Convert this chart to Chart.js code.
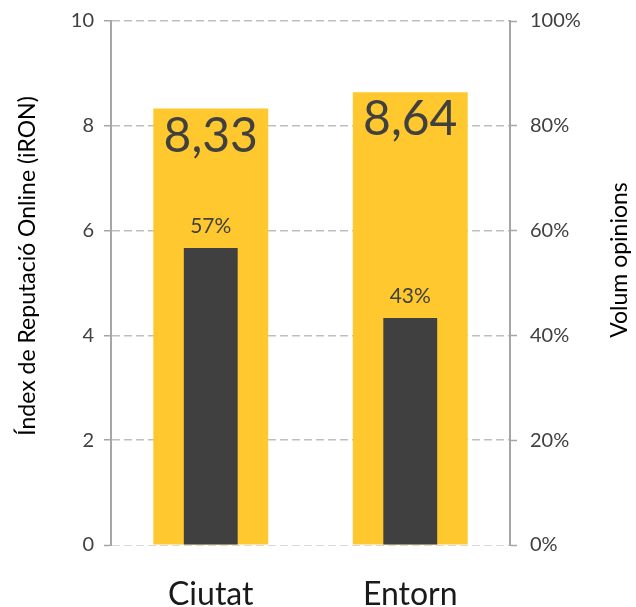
<!DOCTYPE html>
<html>
<head>
<meta charset="utf-8">
<script src="https://cdn.jsdelivr.net/npm/chart.js@4"></script>
<style>
  html, body { margin: 0; padding: 0; background: #fff; }
  #wrap { width: 636px; height: 607px; }
</style>
</head>
<body>
<div id="wrap"><canvas id="ironChart" width="636" height="607"></canvas></div>
<script>
// chart data
const categories = ['Ciutat', 'Entorn'];
const ironValues = [8.33, 8.64];      // left axis, 0-10
const volumeValues = [0.567, 0.433];  // right axis, share of opinions
const leftTitle = 'Índex de Reputació Online (iRON)';
const rightTitle = 'Volum opinions';

const yellow = '#FFC82E';
const darkGrey = '#404040';
const axisGrey = '#A6A6A6';
const FONT = 'Lato';

// labels on the bars and the two rotated axis titles
const labelsPlugin = {
    id: 'barLabels',
    afterDatasetsDraw(chart) {
        const ctx = chart.ctx;
        ctx.save();
        ctx.fillStyle = darkGrey;
        ctx.textAlign = 'center';
        ctx.textBaseline = 'alphabetic';

        // big iRON value inside top of yellow bar
        chart.getDatasetMeta(1).data.forEach((bar, i) => {
            ctx.font = '48px ' + FONT;
            const txt = ironValues[i].toFixed(2).replace('.', ',');
            ctx.fillText(txt, bar.x, bar.y + 43);
        });

        // percentage above dark bar
        chart.getDatasetMeta(0).data.forEach((bar, i) => {
            ctx.font = '21px ' + FONT;
            ctx.fillText(Math.round(volumeValues[i] * 100) + '%', bar.x, bar.y - 15);
        });
        ctx.restore();
    },
    afterDraw(chart) {
        const ctx = chart.ctx;
        const drawTitle = (text, x, y) => {
            ctx.save();
            ctx.fillStyle = '#000';
            ctx.font = '23px ' + FONT;
            ctx.textAlign = 'center';
            ctx.textBaseline = 'middle';
            ctx.translate(x, y);
            ctx.rotate(-Math.PI / 2);
            ctx.fillText(text, 0, 0);
            ctx.restore();
        };
        drawTitle(leftTitle, 28, 266);
        drawTitle(rightTitle, 620, 260);
    }
};

// fixed widths so the plot area sits where it does in the original
const fitSide = width => s => {
    s.width = width;
    s.paddingTop = 0;
    s.paddingBottom = 0;
};

const ctx = document.getElementById('ironChart').getContext('2d');
new Chart(ctx, {
    type: 'bar',
    data: {
        labels: categories,
        datasets: [
            {
                label: 'Volum opinions',
                data: volumeValues,
                yAxisID: 'y2',
                backgroundColor: darkGrey,
                barPercentage: 0.27,
                categoryPercentage: 1,
                grouped: false,
                order: 1
            },
            {
                label: 'iRON',
                data: ironValues,
                yAxisID: 'y',
                backgroundColor: yellow,
                barPercentage: 0.576,
                categoryPercentage: 1,
                grouped: false,
                order: 2
            }
        ]
    },
    options: {
        responsive: false,
        animation: false,
        layout: { padding: { top: 21, left: 0, right: 0, bottom: 0 } },
        plugins: {
            legend: { display: false },
            tooltip: { enabled: false }
        },
        scales: {
            x: {
                grid: { display: false },
                border: { display: false },
                ticks: {
                    color: '#1a1a1a',
                    font: { family: FONT, size: 32 },
                    padding: 22
                },
                afterFit: s => { s.height = 62; }
            },
            y: {
                position: 'left',
                min: 0,
                max: 10,
                ticks: {
                    stepSize: 2,
                    color: darkGrey,
                    font: { family: FONT, size: 20 },
                    padding: 10
                },
                grid: {
                    color: c => c.tick && c.tick.value === 0 ? '#D9D9D9' : '#BFBFBF',
                    lineWidth: c => c.tick && c.tick.value === 0 ? 1 : 1.5,
                    tickLength: 7,
                    tickColor: axisGrey,
                    tickWidth: 1.5
                },
                border: { color: axisGrey, width: 2, dash: [8, 4] },
                afterFit: fitSide(111)
            },
            y2: {
                position: 'right',
                min: 0,
                max: 1,
                ticks: {
                    stepSize: 0.2,
                    color: darkGrey,
                    font: { family: FONT, size: 20 },
                    padding: 13,
                    callback: v => Math.round(v * 100) + '%'
                },
                grid: {
                    drawOnChartArea: false,
                    tickLength: 7,
                    tickColor: axisGrey,
                    tickWidth: 1.5
                },
                border: { color: axisGrey, width: 2 },
                afterFit: fitSide(126)
            }
        }
    },
    plugins: [labelsPlugin]
});
</script>
</body>
</html>
